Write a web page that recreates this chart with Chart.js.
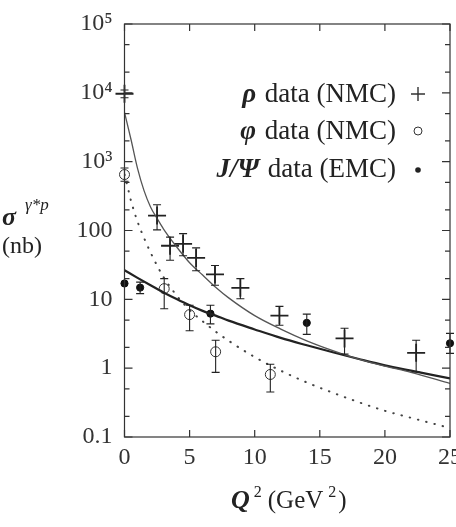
<!DOCTYPE html>
<html>
<head>
<meta charset="utf-8">
<script src="https://cdn.jsdelivr.net/npm/chart.js@4.4.1/dist/chart.umd.min.js"></script>
<style>
    html, body { margin: 0; padding: 0; background: #fff; }
    #wrap { width: 456px; height: 527px; }
</style>
</head>
<body>
<div id="wrap"><canvas id="xsecChart" width="456" height="527"></canvas></div>
<script>
// axis ticks
const xTicks = [0, 5, 10, 15, 20, 25];
const yTicks = [0.1, 1, 10, 100, 1000, 10000, 100000];
const yTickLabels = ['0.1', '1', '10', '100', '10³', '10⁴', '10⁵'];
const yMinorSteps = [2, 5];

// rho data (NMC)
const rhoQ2 = [0, 2.5, 3.5, 4.5, 5.5, 6.95, 8.9, 11.9, 16.9, 22.4];
const rhoSigma = [9700, 165, 60, 64, 40, 23, 14.7, 5.8, 2.7, 1.67];
const rhoLow = [8500, 102, 37, 43, 26, 16, 10.2, 4.2, 1.6, 0.88];
const rhoHigh = [11000, 237, 80, 90, 56, 31, 20, 7.9, 3.8, 2.55];

// phi data (NMC)
const phiQ2 = [0, 3.05, 5.0, 7.0, 11.2];
const phiSigma = [650, 14.3, 6.0, 1.73, 0.81];
const phiLow = [520, 7.3, 3.5, 0.87, 0.45];
const phiHigh = [810, 20, 8.2, 2.55, 1.14];

// J/Psi data (EMC)
const jpsiQ2 = [0, 1.2, 6.6, 14.0, 25];
const jpsiSigma = [17, 14.8, 6.2, 4.55, 2.3];
const jpsiLow = [17, 12.1, 4.4, 3.1, 1.64];
const jpsiHigh = [17, 17.8, 8.2, 6.1, 3.2];

// model curves
const rhoFitQ2 = [0, 0.5, 1, 1.5, 2, 2.5, 3, 4, 5, 6, 7, 8, 10, 12, 14, 16, 18, 20, 22, 25];
const rhoFit = [5200, 2100, 800, 380, 220, 150, 105, 58, 34, 22.5, 15, 10.5, 5.8, 3.7, 2.5, 1.8, 1.35, 1.07, 0.87, 0.6];

const jpsiFitQ2 = [0, 1, 2, 3, 4, 5, 6, 7, 8, 10, 12, 14, 16, 18, 20, 22, 25];
const jpsiFit = [26.5, 20.5, 16, 12.6, 10.1, 8.2, 6.8, 5.8, 4.9, 3.65, 2.75, 2.15, 1.7, 1.36, 1.1, 0.92, 0.71];

const phiFitQ2 = [0, 0.25, 0.5, 1, 1.5, 2, 2.5, 3, 4, 5, 6, 7, 8, 10, 12, 14, 16, 18, 20, 22, 25];
const phiFit = [650, 420, 270, 135, 78, 48, 31, 21, 11.4, 7, 4.8, 3.4, 2.5, 1.45, 0.92, 0.62, 0.44, 0.32, 0.24, 0.19, 0.135];

const legendNames = [['ρ', ' data (NMC)'], ['φ', ' data (NMC)'], ['J/Ψ', ' data (EMC)']];

const serif = '"Liberation Serif", "DejaVu Serif", serif';
const ink = '#222';

function pts(xs, ys) {
    return xs.map((x, i) => ({x: x, y: ys[i]}));
}

// vertical error bars with small caps
const errorBars = {
    id: 'errorBars',
    afterDatasetsDraw(chart) {
        const ctx = chart.ctx;
        const xs = chart.scales.x;
        const ys = chart.scales.y;
        ctx.save();
        chart.data.datasets.forEach(ds => {
            if (!ds.errLow) return;
            ctx.strokeStyle = ink;
            ctx.lineWidth = 1.1;
            ds.data.forEach((p, i) => {
                const px = xs.getPixelForValue(p.x);
                const top = ys.getPixelForValue(ds.errHigh[i]);
                const bot = ys.getPixelForValue(ds.errLow[i]);
                if (Math.abs(bot - top) < 1) return;
                ctx.beginPath();
                ctx.moveTo(px, top);
                ctx.lineTo(px, bot);
                ctx.moveTo(px - 4, top);
                ctx.lineTo(px + 4, top);
                ctx.moveTo(px - 4, bot);
                ctx.lineTo(px + 4, bot);
                ctx.stroke();
            });
        });
        ctx.restore();
    }
};

// frame, inside ticks, legend and axis titles
const decorations = {
    id: 'decorations',
    afterDraw(chart) {
        const ctx = chart.ctx;
        const a = chart.chartArea;
        const xs = chart.scales.x;
        const ys = chart.scales.y;
        ctx.save();
        ctx.strokeStyle = '#333';
        ctx.lineWidth = 1.2;
        ctx.strokeRect(a.left, a.top, a.right - a.left, a.bottom - a.top);

        ctx.beginPath();
        xTicks.forEach(v => {
            const px = xs.getPixelForValue(v);
            ctx.moveTo(px, a.bottom);
            ctx.lineTo(px, a.bottom - 7);
            ctx.moveTo(px, a.top);
            ctx.lineTo(px, a.top + 7);
        });
        yTicks.forEach((v, i) => {
            const py = ys.getPixelForValue(v);
            ctx.moveTo(a.left, py);
            ctx.lineTo(a.left + 8, py);
            ctx.moveTo(a.right, py);
            ctx.lineTo(a.right - 8, py);
            if (i < yTicks.length - 1) {
                yMinorSteps.forEach(m => {
                    const pm = ys.getPixelForValue(v * m);
                    ctx.moveTo(a.left, pm);
                    ctx.lineTo(a.left + 5, pm);
                    ctx.moveTo(a.right, pm);
                    ctx.lineTo(a.right - 5, pm);
                });
            }
        });
        ctx.stroke();

        // legend, right aligned with the marker on the right
        ctx.fillStyle = ink;
        ctx.textBaseline = 'alphabetic';
        const rows = [102, 139, 177];
        const textRight = 396;
        const markX = 418;
        legendNames.forEach((pair, i) => {
            ctx.font = '27px ' + serif;
            const w1 = ctx.measureText(pair[1]).width;
            ctx.textAlign = 'right';
            ctx.fillText(pair[1], textRight, rows[i]);
            ctx.font = 'italic bold 27px ' + serif;
            ctx.fillText(pair[0], textRight - w1 - 2, rows[i]);
        });
        const cy = [94, 131, 170];
        ctx.lineWidth = 1.4;
        ctx.beginPath();
        ctx.moveTo(markX - 7, cy[0]);
        ctx.lineTo(markX + 7, cy[0]);
        ctx.moveTo(markX, cy[0] - 7);
        ctx.lineTo(markX, cy[0] + 7);
        ctx.stroke();
        ctx.lineWidth = 1;
        ctx.beginPath();
        ctx.arc(markX, cy[1], 4, 0, Math.PI * 2);
        ctx.stroke();
        ctx.beginPath();
        ctx.arc(markX, cy[2], 2.8, 0, Math.PI * 2);
        ctx.fill();

        // y title
        ctx.textAlign = 'left';
        ctx.font = 'italic bold 26px ' + serif;
        ctx.fillText('σ', 2, 225);
        ctx.font = 'italic 17px ' + serif;
        ctx.fillText('γ*p', 25, 210);
        ctx.font = '24px ' + serif;
        ctx.fillText('(nb)', 2, 253);

        // x title
        let x = 231;
        const base = 508;
        ctx.font = 'italic bold 26px ' + serif;
        ctx.fillText('Q', x, base);
        x += ctx.measureText('Q').width + 4;
        ctx.font = '16px ' + serif;
        ctx.fillText('2', x, base - 11);
        x += ctx.measureText('2').width + 6;
        ctx.font = '25px ' + serif;
        ctx.fillText('(GeV', x, base);
        x += ctx.measureText('(GeV').width + 5;
        ctx.font = '16px ' + serif;
        ctx.fillText('2', x, base - 11);
        x += ctx.measureText('2').width + 2;
        ctx.font = '25px ' + serif;
        ctx.fillText(')', x, base);
        ctx.restore();
    }
};

const ctxC = document.getElementById('xsecChart').getContext('2d');
const chart = new Chart(ctxC, {
    type: 'scatter',
    data: {
        datasets: [
            {
                label: 'rho fit',
                data: pts(rhoFitQ2, rhoFit),
                showLine: true,
                borderColor: '#555',
                borderWidth: 1.3,
                pointRadius: 0,
                cubicInterpolationMode: 'monotone'
            },
            {
                label: 'J/Psi fit',
                data: pts(jpsiFitQ2, jpsiFit),
                showLine: true,
                borderColor: '#222',
                borderWidth: 2.2,
                pointRadius: 0,
                cubicInterpolationMode: 'monotone'
            },
            {
                label: 'phi fit',
                data: pts(phiFitQ2, phiFit),
                showLine: true,
                borderColor: '#444',
                borderWidth: 2,
                borderDash: [0.5, 8],
                borderCapStyle: 'round',
                pointRadius: 0,
                cubicInterpolationMode: 'monotone'
            },
            {
                label: 'rho data (NMC)',
                data: pts(rhoQ2, rhoSigma),
                errLow: rhoLow,
                errHigh: rhoHigh,
                pointStyle: 'cross',
                pointRadius: 9,
                borderColor: ink,
                borderWidth: 1.8,
                clip: false
            },
            {
                label: 'phi data (NMC)',
                data: pts(phiQ2, phiSigma),
                errLow: phiLow,
                errHigh: phiHigh,
                pointStyle: 'circle',
                pointRadius: 5,
                backgroundColor: 'rgba(255,255,255,0)',
                borderColor: '#333',
                borderWidth: 1,
                clip: false
            },
            {
                label: 'J/Psi data (EMC)',
                data: pts(jpsiQ2, jpsiSigma),
                errLow: jpsiLow,
                errHigh: jpsiHigh,
                pointStyle: 'circle',
                pointRadius: 3.6,
                backgroundColor: '#111',
                borderColor: '#111',
                borderWidth: 1,
                clip: false
            }
        ]
    },
    options: {
        responsive: false,
        animation: false,
        events: [],
        layout: {autoPadding: false, padding: {left: 0, right: 6, top: 24, bottom: 0}},
        plugins: {
            legend: {display: false},
            tooltip: {enabled: false}
        },
        scales: {
            x: {
                type: 'linear',
                min: 0,
                max: 25,
                grid: {display: false, drawTicks: false},
                border: {display: false},
                afterBuildTicks: scale => {
                    scale.ticks = xTicks.map(v => ({value: v}));
                },
                afterFit: scale => {
                    scale.height = 90;
                    scale.paddingLeft = 0;
                    scale.paddingRight = 0;
                },
                ticks: {
                    color: '#333',
                    padding: 6,
                    maxRotation: 0,
                    autoSkip: false,
                    font: {family: serif, size: 24}
                }
            },
            y: {
                type: 'logarithmic',
                min: 0.1,
                max: 100000,
                grid: {display: false, drawTicks: false},
                border: {display: false},
                afterBuildTicks: scale => {
                    scale.ticks = yTicks.map(v => ({value: v}));
                },
                afterFit: scale => {
                    scale.width = 124.5;
                    scale.paddingTop = 0;
                    scale.paddingBottom = 0;
                },
                ticks: {
                    color: '#333',
                    padding: 12,
                    autoSkip: false,
                    font: {family: serif, size: 24},
                    callback: (v) => {
                        const i = yTicks.findIndex(t => Math.abs(t - v) / t < 1e-6);
                        return i >= 0 ? yTickLabels[i] : '';
                    }
                }
            }
        }
    },
    plugins: [errorBars, decorations]
});
</script>
</body>
</html>
